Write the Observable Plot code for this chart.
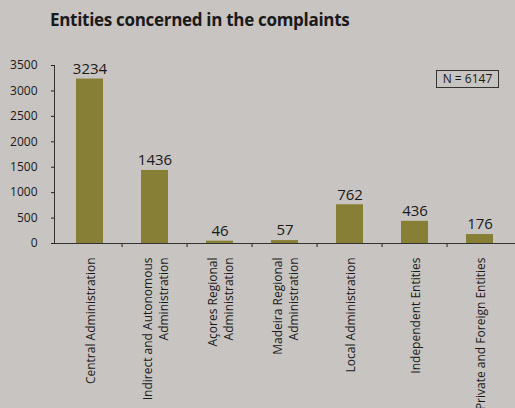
<!DOCTYPE html>
<html>
<head>
<meta charset="utf-8">
<script src="https://cdn.jsdelivr.net/npm/d3@7"></script>
<script src="https://cdn.jsdelivr.net/npm/@observablehq/plot@0.6"></script>
<style>
  html, body { margin: 0; padding: 0; background: #c8c4c1; }
  #wrap { position: relative; width: 515px; height: 408px; overflow: hidden; background: #c8c4c1; }
  #title { position: absolute; left: 50px; top: 8px; font-family: "Open Sans", sans-serif; font-weight: bold; font-size: 17px; color: #1a1a1a; letter-spacing: -0.3px; white-space: nowrap; }
  #chart { position: absolute; left: 0; top: 45px; }
  #nbox { position: absolute; left: 436px; top: 70px; width: 61px; height: 16px; border: 1px solid #333; font-family: "Open Sans", sans-serif; font-size: 12px; color: #1a1a1a; line-height: 16px; text-align: center; }
</style>
</head>
<body>
<div id="wrap">
  <div id="title">Entities concerned in the complaints</div>
  <div id="chart"></div>
  <div id="nbox">N = 6147</div>
</div>
<script>
const categories = [
  "Central Administration",
  "Indirect and Autonomous\nAdministration",
  "Açores Regional\nAdministration",
  "Madeira Regional\nAdministration",
  "Local Administration",
  "Independent Entities",
  "Private and Foreign Entities"
];
const values = [3234, 1436, 46, 57, 762, 436, 176];
const yTicks = [0, 500, 1000, 1500, 2000, 2500, 3000, 3500];

const data = categories.map((c, i) => ({category: c, value: values[i]}));
const W = 515, H = 363, ML = 54, MR = 0, MT = 20, MB = 165;
const step = (W - ML - MR) / categories.length;
const plotH = H - MT - MB;
const font = "'Open Sans', sans-serif";
const ink = "#1a1a1a";

const chart = Plot.plot({
  width: W,
  height: H,
  marginLeft: ML,
  marginRight: MR,
  marginTop: MT,
  marginBottom: MB,
  style: {background: "transparent", fontFamily: font, color: ink},
  x: {domain: categories, paddingInner: 0.59, paddingOuter: 0.295, align: 0.5, axis: null},
  y: {domain: [0, 3500], axis: null},
  marks: [
    Plot.barY(data, {x: "category", y: "value", fill: "#877f35"}),
    Plot.axisY(yTicks, {tickSize: 3, tickPadding: 14, fontSize: 12, stroke: "#222", fill: ink, label: null, tickFormat: d => String(d)}),
    Plot.ruleX(categories.slice(1), {x: d => d, dx: -step / 2, insetTop: plotH, insetBottom: -4, stroke: "#222"}),
    Plot.frame({anchor: "left", stroke: "#333"}),
    Plot.frame({anchor: "bottom", stroke: "#333"}),
    Plot.text(data, {x: "category", y: "value", text: d => String(d.value), dy: -10, fontSize: 15, fill: ink}),
    Plot.text(data, {x: "category", y: () => 0, text: "category", rotate: -90, textAnchor: "end", lineAnchor: "middle", lineHeight: 1.33, dy: 14, fontSize: 12, fill: ink})
  ]
});
document.getElementById("chart").appendChild(chart);
</script>
</body>
</html>
